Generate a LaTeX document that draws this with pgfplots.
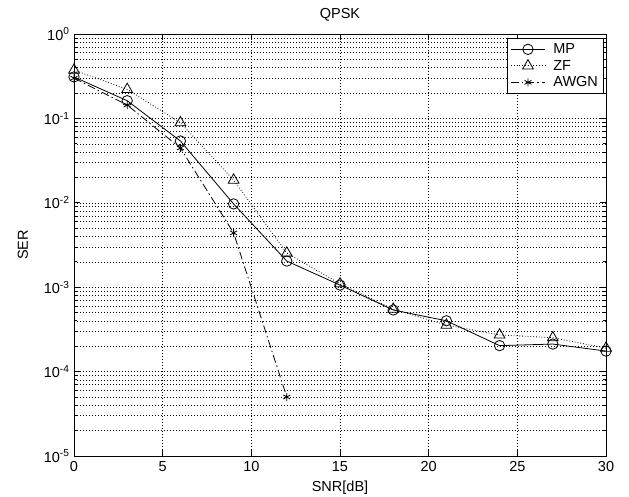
\documentclass[border=0pt]{standalone}
\usepackage{fontspec}
\setmainfont{Liberation Sans}
\usepackage{pgfplots}
\pgfplotsset{compat=1.18}

\newcommand{\lblfont}{\fontsize{14.5}{16.5}\selectfont}

\begin{document}
\begin{tikzpicture}
\begin{semilogyaxis}[
    scale only axis,
    width=532pt, height=422pt,
    xmin=0, xmax=30,
    ymin=1e-5, ymax=1,
    xtick={0,5,...,30},
    ytick={1e-5,1e-4,1e-3,1e-2,1e-1,1},
    yticklabels={10\textsuperscript{-5},10\textsuperscript{-4},10\textsuperscript{-3},10\textsuperscript{-2},10\textsuperscript{-1},10\textsuperscript{0}},
    /pgf/number format/assume math mode=true,
    tick align=inside,
    grid=both,
    xminorgrids=false,
    yminorgrids=true,
    major grid style={dash pattern=on 1.4pt off 1.6pt, black, line width=0.55pt},
    minor grid style={dash pattern=on 1.4pt off 1.6pt, black, line width=0.55pt},
    axis line style={line width=0.9pt},
    tick style={black, line width=0.7pt},
    major tick length=6pt,
    minor tick length=3.5pt,
    tick label style={font=\lblfont},
    xticklabel style={yshift=-2pt},
    yticklabel style={xshift=-1pt},
    every axis title/.style={at={(axis description cs:0.5,1)}, anchor=center, yshift=19pt, font=\lblfont},
    every axis x label/.style={at={(axis description cs:0.5,0)}, anchor=center, yshift=-32pt, font=\lblfont},
    every axis y label/.style={at={(axis description cs:-0.096,0.5)}, anchor=center, rotate=90, font=\lblfont},
    title={QPSK},
    xlabel={SNR[dB]},
    ylabel={SER},
    legend style={at={(0.995,0.99)}, anchor=north east, draw=black,
        line width=0.8pt, font=\lblfont,
        inner sep=3pt, row sep=1pt},
    legend cell align=left,
    legend image code/.code={
        \draw[mark repeat=2, mark phase=2, #1]
        plot coordinates {(0pt,0pt) (17pt,0pt) (34pt,0pt)};
        \path (40pt,0pt);
    },
]
% MP
\addplot[black, line width=0.8pt, mark=o, mark size=5.2pt, mark options={solid}]
coordinates {
    (0,0.31) (3,0.162) (6,0.054) (9,0.0097) (12,0.00204)
    (15,0.00106) (18,0.000537) (21,0.00040) (24,0.000203)
    (27,0.000212) (30,0.000175)
};
\addlegendentry{MP}
% ZF
\addplot[black, line width=0.8pt, dotted, mark=triangle, mark size=6.2pt, mark options={solid}]
coordinates {
    (0,0.374) (3,0.221) (6,0.089) (9,0.0186) (12,0.00254)
    (15,0.0011) (18,0.00055) (21,0.000356) (24,0.000272)
    (27,0.000252) (30,0.00019)
};
\addlegendentry{ZF}
% AWGN
\addplot[black, line width=0.8pt, dash pattern=on 8pt off 3pt on 1.5pt off 3pt, mark=asterisk, mark size=4pt, mark options={solid}]
coordinates {
    (0,0.30) (3,0.144) (6,0.0446) (9,0.0044) (12,0.00005)
};
\addlegendentry{AWGN}
\end{semilogyaxis}
\pgfresetboundingbox
\path (current axis.south west) +(-74pt,-41pt) (current axis.north east) +(23pt,34pt);
\end{tikzpicture}
\end{document}
